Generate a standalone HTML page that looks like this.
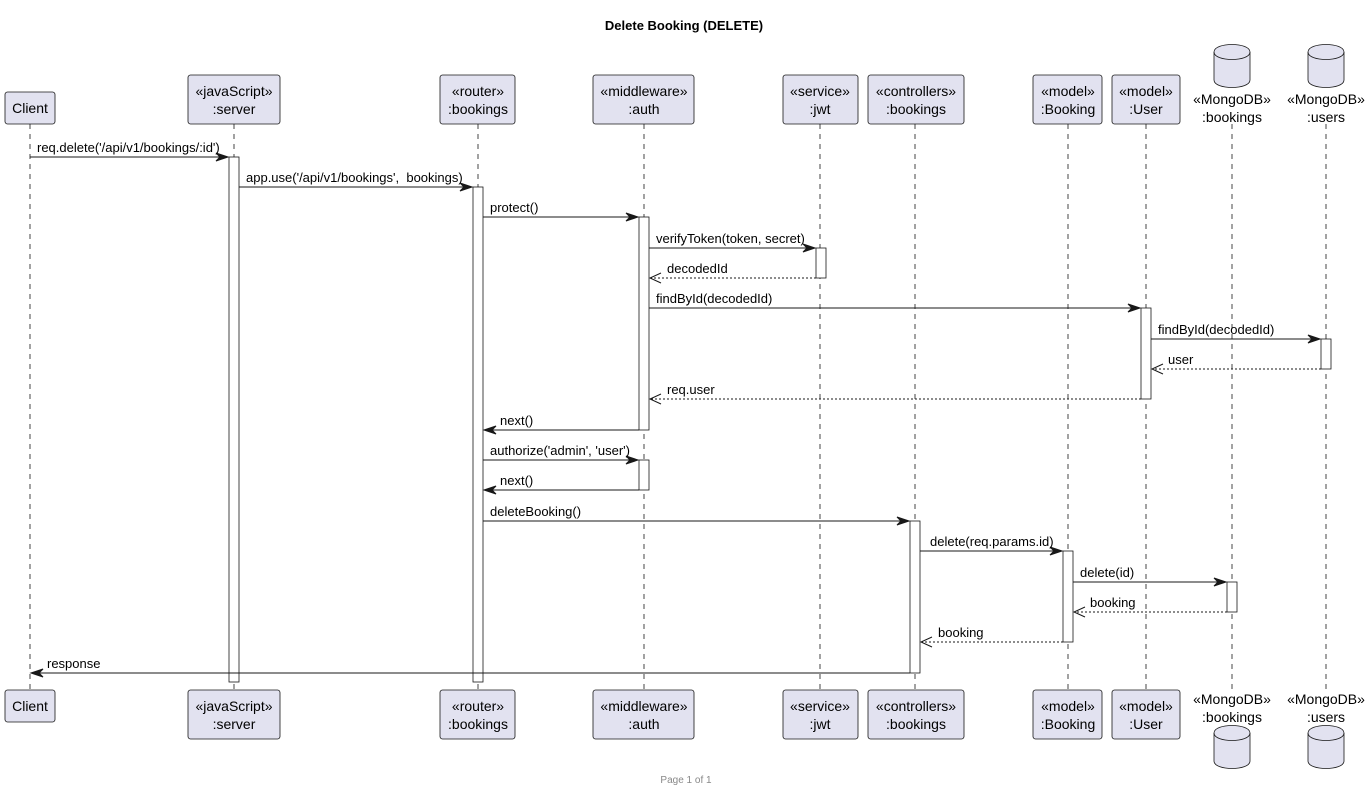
<!DOCTYPE html>
<html><head><meta charset="utf-8"><style>
html,body{margin:0;padding:0;background:#fff;}
svg{display:block;font-family:"Liberation Sans",sans-serif;}
</style></head><body>
<svg width="1368" height="791" viewBox="0 0 1368 791" xmlns="http://www.w3.org/2000/svg">
<text x="684" y="30" font-size="13" font-weight="bold" text-anchor="middle">Delete Booking (DELETE)</text>
<g stroke="#181818" stroke-width="0.8" stroke-dasharray="5,5">
<line x1="30" y1="124" x2="30" y2="690"/>
<line x1="234" y1="124" x2="234" y2="690"/>
<line x1="478" y1="124" x2="478" y2="690"/>
<line x1="644" y1="124" x2="644" y2="690"/>
<line x1="820" y1="124" x2="820" y2="690"/>
<line x1="915" y1="124" x2="915" y2="690"/>
<line x1="1068" y1="124" x2="1068" y2="690"/>
<line x1="1146" y1="124" x2="1146" y2="690"/>
<line x1="1232" y1="124" x2="1232" y2="690"/>
<line x1="1326" y1="124" x2="1326" y2="690"/>
</g>
<g fill="#E2E2F0" stroke="#181818" stroke-width="0.8">
<rect x="5" y="92" width="50" height="32" rx="2.5"/>
<rect x="188" y="75" width="92" height="49" rx="2.5"/>
<rect x="440" y="75" width="75" height="49" rx="2.5"/>
<rect x="593" y="75" width="101" height="49" rx="2.5"/>
<rect x="783" y="75" width="75" height="49" rx="2.5"/>
<rect x="868" y="75" width="96" height="49" rx="2.5"/>
<rect x="1033" y="75" width="69" height="49" rx="2.5"/>
<rect x="1112" y="75" width="68" height="49" rx="2.5"/>
<rect x="5" y="690" width="50" height="32" rx="2.5"/>
<rect x="188" y="690" width="92" height="49" rx="2.5"/>
<rect x="440" y="690" width="75" height="49" rx="2.5"/>
<rect x="593" y="690" width="101" height="49" rx="2.5"/>
<rect x="783" y="690" width="75" height="49" rx="2.5"/>
<rect x="868" y="690" width="96" height="49" rx="2.5"/>
<rect x="1033" y="690" width="69" height="49" rx="2.5"/>
<rect x="1112" y="690" width="68" height="49" rx="2.5"/>
<path d="M1214,52 C1214,42 1250,42 1250,52 L1250,80 C1250,90 1214,90 1214,80 Z"/>
<path d="M1214,52 C1214,62 1250,62 1250,52" fill="none"/>
<path d="M1308,52 C1308,42 1344,42 1344,52 L1344,80 C1344,90 1308,90 1308,80 Z"/>
<path d="M1308,52 C1308,62 1344,62 1344,52" fill="none"/>
<path d="M1214,733 C1214,723 1250,723 1250,733 L1250,761 C1250,771 1214,771 1214,761 Z"/>
<path d="M1214,733 C1214,743 1250,743 1250,733" fill="none"/>
<path d="M1308,733 C1308,723 1344,723 1344,733 L1344,761 C1344,771 1308,771 1308,761 Z"/>
<path d="M1308,733 C1308,743 1344,743 1344,733" fill="none"/>
</g>
<g font-size="14" text-anchor="middle" fill="#000">
<text x="30" y="113">Client</text>
<text x="234" y="96">«javaScript»</text><text x="234" y="114">:server</text>
<text x="478" y="96">«router»</text><text x="478" y="114">:bookings</text>
<text x="644" y="96">«middleware»</text><text x="644" y="114">:auth</text>
<text x="820" y="96">«service»</text><text x="820" y="114">:jwt</text>
<text x="916" y="96">«controllers»</text><text x="916" y="114">:bookings</text>
<text x="1068" y="96">«model»</text><text x="1068" y="114">:Booking</text>
<text x="1146" y="96">«model»</text><text x="1146" y="114">:User</text>
<text x="1232" y="104">«MongoDB»</text><text x="1232" y="122">:bookings</text>
<text x="1326" y="104">«MongoDB»</text><text x="1326" y="122">:users</text>
<text x="30" y="711">Client</text>
<text x="234" y="711">«javaScript»</text><text x="234" y="729">:server</text>
<text x="478" y="711">«router»</text><text x="478" y="729">:bookings</text>
<text x="644" y="711">«middleware»</text><text x="644" y="729">:auth</text>
<text x="820" y="711">«service»</text><text x="820" y="729">:jwt</text>
<text x="916" y="711">«controllers»</text><text x="916" y="729">:bookings</text>
<text x="1068" y="711">«model»</text><text x="1068" y="729">:Booking</text>
<text x="1146" y="711">«model»</text><text x="1146" y="729">:User</text>
<text x="1232" y="704">«MongoDB»</text><text x="1232" y="722">:bookings</text>
<text x="1326" y="704">«MongoDB»</text><text x="1326" y="722">:users</text>
</g>
<g fill="#fff" stroke="#181818" stroke-width="0.8">
<rect x="229" y="157" width="10" height="525"/>
<rect x="473" y="187" width="10" height="495"/>
<rect x="639" y="217" width="10" height="213"/>
<rect x="639" y="460" width="10" height="30"/>
<rect x="816" y="248" width="10" height="30"/>
<rect x="1141" y="308" width="10" height="91"/>
<rect x="1321" y="339" width="10" height="30"/>
<rect x="910" y="521" width="10" height="152"/>
<rect x="1063" y="551" width="10" height="91"/>
<rect x="1227" y="582" width="10" height="30"/>
</g>
<g stroke="#181818" stroke-width="1" fill="#181818">
<line x1="30" y1="157" x2="228" y2="157"/><polygon points="228,157 216,153 220,157 216,161"/>
<line x1="239" y1="187" x2="472" y2="187"/><polygon points="472,187 460,183 464,187 460,191"/>
<line x1="483" y1="217" x2="638" y2="217"/><polygon points="638,217 626,213 630,217 626,221"/>
<line x1="649" y1="248" x2="815" y2="248"/><polygon points="815,248 803,244 807,248 803,252"/>
<line x1="649" y1="308" x2="1140" y2="308"/><polygon points="1140,308 1128,304 1132,308 1128,312"/>
<line x1="1151" y1="339" x2="1320" y2="339"/><polygon points="1320,339 1308,335 1312,339 1308,343"/>
<line x1="639" y1="430" x2="484" y2="430"/><polygon points="484,430 496,426 492,430 496,434"/>
<line x1="483" y1="460" x2="638" y2="460"/><polygon points="638,460 626,456 630,460 626,464"/>
<line x1="639" y1="490" x2="484" y2="490"/><polygon points="484,490 496,486 492,490 496,494"/>
<line x1="483" y1="521" x2="909" y2="521"/><polygon points="909,521 897,517 901,521 897,525"/>
<line x1="920" y1="551" x2="1062" y2="551"/><polygon points="1062,551 1050,547 1054,551 1050,555"/>
<line x1="1073" y1="582" x2="1226" y2="582"/><polygon points="1226,582 1214,578 1218,582 1214,586"/>
<line x1="910" y1="673" x2="31" y2="673"/><polygon points="31,673 43,669 39,673 43,677"/>
</g>
<g stroke="#181818" stroke-width="1" fill="none">
<g stroke-dasharray="2,2">
<line x1="816" y1="278" x2="650" y2="278"/>
<line x1="1321" y1="369" x2="1152" y2="369"/>
<line x1="1141" y1="399" x2="650" y2="399"/>
<line x1="1227" y1="612" x2="1074" y2="612"/>
<line x1="1063" y1="642" x2="921" y2="642"/>
</g>
<polyline points="661,273 650,278 661,283"/>
<polyline points="1163,364 1152,369 1163,374"/>
<polyline points="661,394 650,399 661,404"/>
<polyline points="1085,607 1074,612 1085,617"/>
<polyline points="932,637 921,642 932,647"/>
</g>
<g font-size="13" fill="#000">
<text x="37" y="152">req.delete('/api/v1/bookings/:id')</text>
<text x="246" y="182" xml:space="preserve">app.use('/api/v1/bookings',&#160; bookings)</text>
<text x="490" y="212">protect()</text>
<text x="656" y="243">verifyToken(token, secret)</text>
<text x="667" y="273">decodedId</text>
<text x="656" y="303">findById(decodedId)</text>
<text x="1158" y="334">findById(decodedId)</text>
<text x="1168" y="364">user</text>
<text x="667" y="394">req.user</text>
<text x="500" y="425">next()</text>
<text x="490" y="455">authorize('admin', 'user')</text>
<text x="500" y="485">next()</text>
<text x="490" y="516">deleteBooking()</text>
<text x="930" y="546">delete(req.params.id)</text>
<text x="1080" y="577">delete(id)</text>
<text x="1090" y="607">booking</text>
<text x="938" y="637">booking</text>
<text x="47" y="668">response</text>
</g>
<text x="686" y="783" font-size="10" fill="#888" text-anchor="middle">Page 1 of 1</text>
</svg>
</body></html>
